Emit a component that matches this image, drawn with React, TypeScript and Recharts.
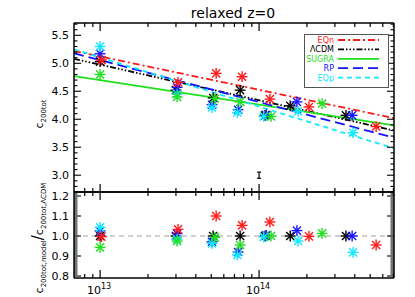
import React from "react";
import { ComposedChart, Line, Scatter, XAxis, YAxis, ReferenceLine, ErrorBar } from "recharts";

// halo mass range of the plot (log axis)
const X_MIN = 6.85e12;
const X_MAX = 7.06e14;
const fitMass = [X_MIN, X_MAX];

const xMajor = [1e13, 1e14];
const xMajorExp = ["13", "14"];
const xMinor = [8e12, 9e12, 2e13, 3e13, 4e13, 5e13, 6e13, 7e13, 8e13, 9e13, 2e14, 3e14, 4e14, 5e14, 6e14, 7e14];

const topDomain = [2.7, 5.72];
const topMajor = [3.0, 3.5, 4.0, 4.5, 5.0, 5.5];
const botDomain = [0.79, 1.22];
const botMajor = [0.8, 0.9, 1.0, 1.1, 1.2];

// EQn
const eqnMass = [1.02e13, 3.09e13, 5.37e13, 7.82e13, 1.17e14, 2.06e14, 5.45e14];
const eqnC = [5.06, 4.66, 4.82, 4.76, 4.36, 4.22, 3.87];
const eqnRatio = [0.997, 1.033, 1.1, 1.053, 1.07, 0.998, 0.955];
const eqnFit = [5.22, 4.02];
// LCDM
const lcdmMass = [1.0e13, 3.0e13, 5.14e13, 7.6e13, 1.09e14, 1.57e14, 3.52e14];
const lcdmC = [5.03, 4.52, 4.38, 4.52, 4.07, 4.24, 4.07];
const lcdmRatio = [1, 1, 1, 1, 1, 1, 1];
const lcdmFit = [5.08, 3.8];
// SUGRA
const sugraMass = [1.0e13, 3.05e13, 5.28e13, 7.6e13, 1.19e14, 2.49e14];
const sugraC = [4.8, 4.4, 4.37, 4.31, 4.05, 4.28];
const sugraRatio = [0.943, 0.975, 0.993, 0.955, 1.0, 1.013];
const sugraFit = [4.77, 3.89];
// RP
const rpMass = [1.0e13, 3.05e13, 5.06e13, 7.38e13, 1.11e14, 1.73e14, 3.85e14];
const rpC = [5.17, 4.57, 4.26, 4.17, 4.08, 4.31, 4.07];
const rpRatio = [1.025, 1.012, 0.971, 0.92, 1.003, 1.027, 1.0];
const rpFit = [5.18, 3.67];
// EQp
const eqpMass = [1.0e13, 3.05e13, 5.06e13, 7.3e13, 1.07e14, 1.76e14, 3.9e14];
const eqpC = [5.3, 4.45, 4.21, 4.12, 4.05, 4.14, 3.76];
const eqpRatio = [1.043, 0.984, 0.963, 0.905, 0.995, 0.975, 0.918];
const eqpFit = [5.25, 3.48];

// error bar marker
const errMass = [1e14];
const errC = [3.0];
const errSize = [0.055];

const FONT = "DejaVu Sans";

const models = [
  { name: "EQn", color: "#ff1a1a", dash: "7 3 2 3", mass: eqnMass, c: eqnC, ratio: eqnRatio, fit: eqnFit },
  { name: "ΛCDM", color: "#000000", dash: "6 2 1.5 2 1.5 2 1.5 2", mass: lcdmMass, c: lcdmC, ratio: lcdmRatio, fit: lcdmFit },
  { name: "SUGRA", color: "#1ee01e", dash: undefined, mass: sugraMass, c: sugraC, ratio: sugraRatio, fit: sugraFit },
  { name: "RP", color: "#1414ff", dash: "10 5", mass: rpMass, c: rpC, ratio: rpRatio, fit: rpFit },
  { name: "EQp", color: "#10e8ff", dash: "5 4", mass: eqpMass, c: eqpC, ratio: eqpRatio, fit: eqpFit },
];

// draw order of the stars
const starOrder = [1, 3, 4, 2, 0];

const range = (a: number, b: number, step: number) => {
  const out: number[] = [];
  for (let v = a; v <= b + 1e-9; v += step) out.push(Math.round(v * 1000) / 1000);
  return out;
};
const topTicks = range(2.8, 5.7, 0.1);
const botTicks = range(0.8, 1.22, 0.01);
const isIn = (arr: number[], v: number) => arr.some((m) => Math.abs(m - v) < 1e-6 * Math.max(1, Math.abs(m)));

const Star = (props: any) => {
  const { cx, cy, color } = props;
  if (cx == null || cy == null) return <g />;
  const r = 5.4;
  const d = r * 0.75;
  return (
    <g stroke={color} strokeWidth={1.4}>
      <line x1={cx - r} y1={cy} x2={cx + r} y2={cy} />
      <line x1={cx} y1={cy - r} x2={cx} y2={cy + r} />
      <line x1={cx - d} y1={cy - d} x2={cx + d} y2={cy + d} />
      <line x1={cx - d} y1={cy + d} x2={cx + d} y2={cy - d} />
    </g>
  );
};

const XTick = (props: any) => {
  const { x, y, payload, side, showLabel } = props;
  const v = payload.value;
  const mi = xMajor.findIndex((m) => Math.abs(m - v) / m < 1e-6);
  const major = mi >= 0;
  const len = major ? 8 : 4;
  const dir = side === "bottom" ? -1 : 1;
  return (
    <g>
      <line x1={x} y1={y} x2={x} y2={y + dir * len} stroke="#000" strokeWidth={1.2} />
      {showLabel && major && (
        <text x={x - 1} y={y + 16} textAnchor="middle" fontFamily={FONT} fontSize={11} fill="#000">
          10<tspan dy={-5} fontSize={8}>{xMajorExp[mi]}</tspan>
        </text>
      )}
    </g>
  );
};

const YTick = (props: any) => {
  const { x, y, payload, side, majors } = props;
  const v = payload.value;
  const major = isIn(majors, v);
  const len = major ? 7 : 3.5;
  const dir = side === "left" ? 1 : -1;
  return (
    <g>
      <line x1={x} y1={y} x2={x + dir * len} y2={y} stroke="#000" strokeWidth={1.1} />
      {side === "left" && major && (
        <text x={x - 5} y={y + 4} textAnchor="end" fontFamily={FONT} fontSize={11} fill="#000">
          {v.toFixed(1)}
        </text>
      )}
    </g>
  );
};

const axisLine = { stroke: "#000", strokeWidth: 1.5 };

const xAxes = (showLabel: boolean) => [
  <XAxis key="xb" dataKey="x" type="number" scale="log" domain={[X_MIN, X_MAX]} allowDataOverflow
    ticks={[...xMajor, ...xMinor]} interval={0} height={1} tickSize={0} tickMargin={0} tickLine={false}
    axisLine={axisLine} tick={<XTick side="bottom" showLabel={showLabel} />} />,
  <XAxis key="xt" xAxisId="top" orientation="top" dataKey="x" type="number" scale="log" domain={[X_MIN, X_MAX]} allowDataOverflow
    ticks={[...xMajor, ...xMinor]} interval={0} height={1} tickSize={0} tickMargin={0} tickLine={false}
    axisLine={axisLine} tick={<XTick side="top" showLabel={false} />} />,
];

const yAxes = (domain: number[], ticks: number[], majors: number[]) => [
  <YAxis key="yl" dataKey="y" type="number" domain={domain} allowDataOverflow ticks={ticks} interval={0}
    width={1} tickSize={0} tickMargin={0} tickLine={false} axisLine={axisLine}
    tick={<YTick side="left" majors={majors} />} />,
  <YAxis key="yr" yAxisId="right" orientation="right" dataKey="y" type="number" domain={domain} allowDataOverflow
    ticks={ticks} interval={0} width={1} tickSize={0} tickMargin={0} tickLine={false} axisLine={axisLine}
    tick={<YTick side="right" majors={majors} />} />,
];

export default function App() {
  const errData = errMass.map((m, i) => ({ x: m, y: errC[i], e: errSize[i] }));
  return (
    <div style={{ position: "absolute", left: 0, top: 0, width: 415, height: 297, background: "#fff", fontFamily: FONT }}>
      <div style={{ position: "absolute", left: 0, top: 0 }}>
        <ComposedChart width={415} height={200} margin={{ top: 22, right: 20, bottom: 7, left: 73 }}>
          {xAxes(false)}
          {yAxes(topDomain, topTicks, topMajor)}
          {models.map((m) => (
            <Line key={"fit" + m.name} data={fitMass.map((x, i) => ({ x, y: m.fit[i] }))} dataKey="y" type="linear"
              stroke={m.color} strokeWidth={1.8} strokeDasharray={m.dash} dot={false} activeDot={false}
              isAnimationActive={false} />
          ))}
          {starOrder.map((k) => {
            const m = models[k];
            return (
              <Scatter key={"pt" + m.name} data={m.mass.map((x, i) => ({ x, y: m.c[i] }))} dataKey="y"
                shape={(p: any) => <Star {...p} color={m.color} />} isAnimationActive={false} />
            );
          })}
          <Scatter data={errData} dataKey="y" shape={() => <g />} isAnimationActive={false}>
            <ErrorBar dataKey="e" direction="y" width={2} stroke="#000" strokeWidth={1.2} isAnimationActive={false} />
          </Scatter>
        </ComposedChart>
      </div>
      <div style={{ position: "absolute", left: 0, top: 186 }}>
        <ComposedChart width={415} height={111} margin={{ top: 5, right: 20, bottom: 18, left: 73 }}>
          {xAxes(true)}
          {yAxes(botDomain, botTicks, botMajor)}
          <ReferenceLine y={1} stroke="#a0a0a0" strokeDasharray="5 4" strokeWidth={1} />
          {starOrder.map((k) => {
            const m = models[k];
            return (
              <Scatter key={"r" + m.name} data={m.mass.map((x, i) => ({ x, y: m.ratio[i] }))} dataKey="y"
                shape={(p: any) => <Star {...p} color={m.color} />} isAnimationActive={false} />
            );
          })}
        </ComposedChart>
      </div>
      <svg width={415} height={297} style={{ position: "absolute", left: 0, top: 0, pointerEvents: "none" }}>
        <text x={233} y={18} textAnchor="middle" fontFamily={FONT} fontSize={14} fill="#000">relaxed z=0</text>
        <text transform="translate(43,114) rotate(-90)" textAnchor="middle" fontFamily={FONT} fontSize={11} fill="#000">
          c<tspan fontSize={7} dy={3}>200tot</tspan>
        </text>
        <text transform="translate(43,238) rotate(-90)" textAnchor="middle" fontFamily={FONT} fontSize={11} fill="#000">
          c<tspan fontSize={7} dy={3}>200tot,model</tspan>
          <tspan fontSize={15} dy={-3}>/</tspan>
          c<tspan fontSize={7} dy={3}>200tot,ΛCDM</tspan>
        </text>
        <rect x={304.5} y={34.5} width={84} height={53} fill="#fff" stroke="#555" strokeWidth={1} />
        {models.map((m, i) => {
          const yy = 40 + i * 9.4;
          return (
            <g key={"lg" + m.name}>
              <text x={334} y={yy + 3} textAnchor="end" fontFamily={FONT} fontSize={8} fill={m.color}>{m.name}</text>
              <line x1={338} y1={yy} x2={379} y2={yy} stroke={m.color} strokeWidth={1.8} strokeDasharray={m.dash} />
            </g>
          );
        })}
      </svg>
    </div>
  );
}
